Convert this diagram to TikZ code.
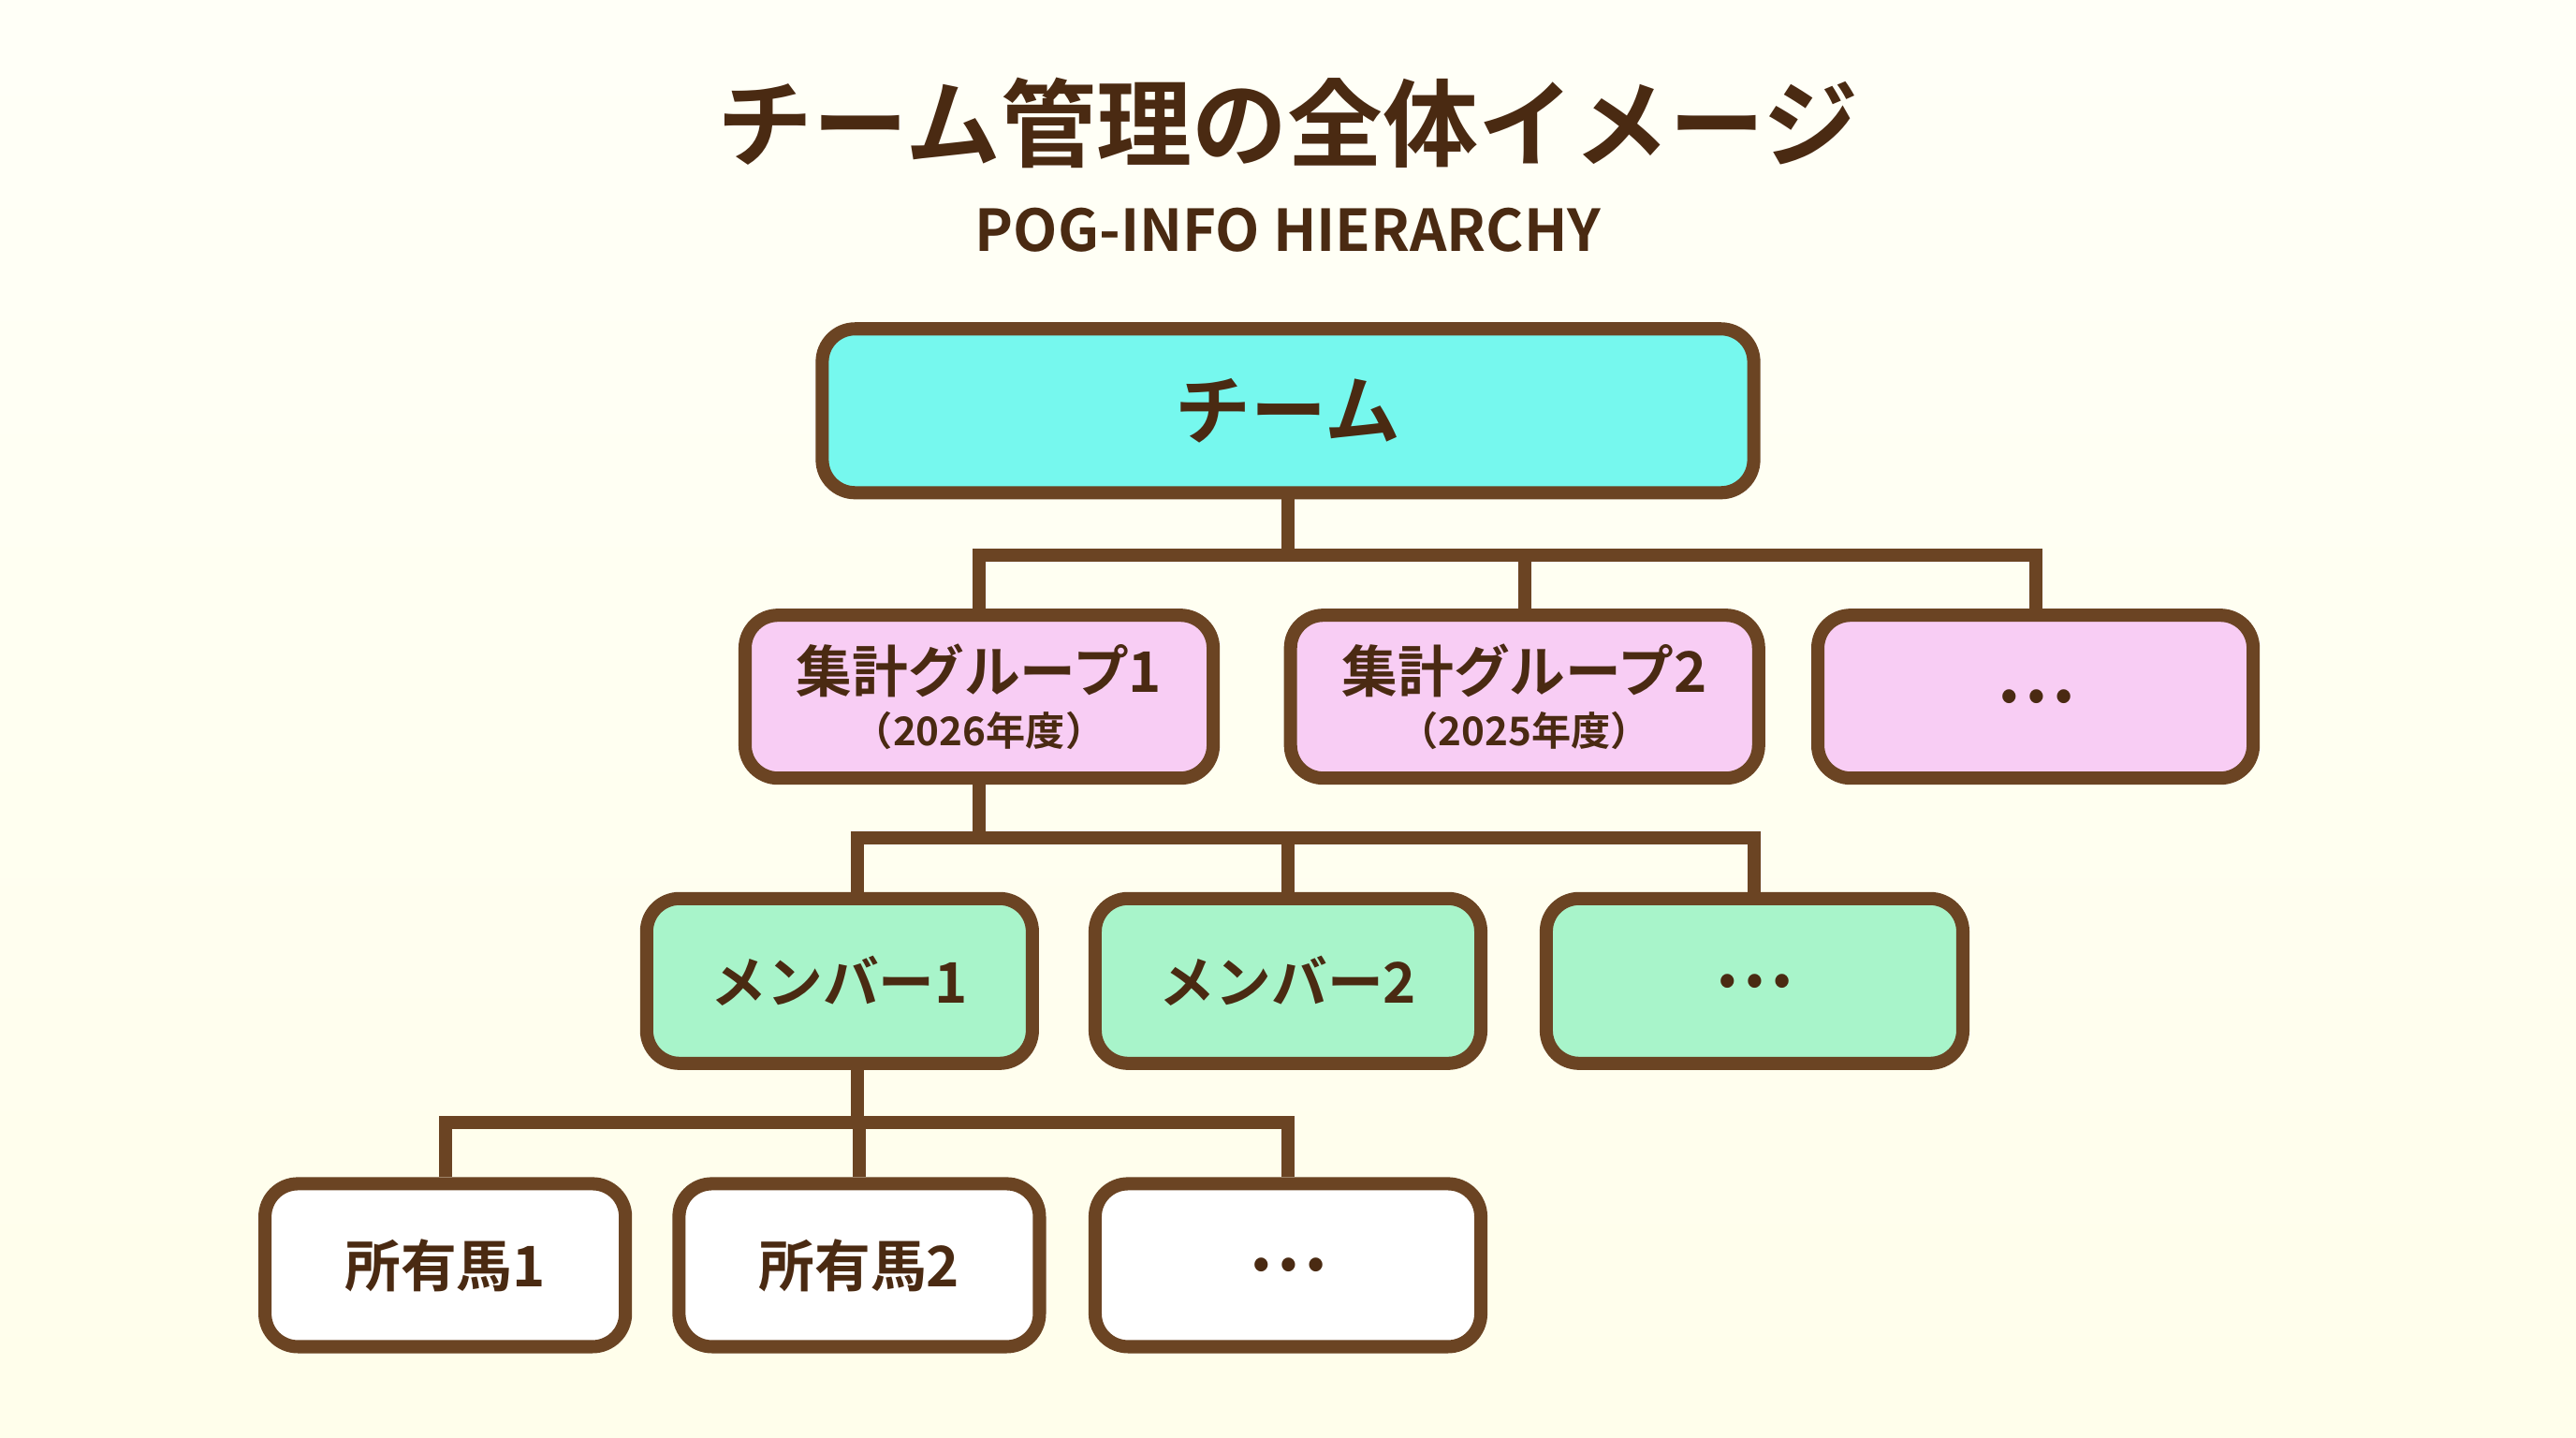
\documentclass[tikz,border=0pt]{standalone}
\usepackage{fontspec}
\setmainfont{Noto Sans CJK JP}[BoldFont={Noto Sans CJK JP Bold}]
\usetikzlibrary{positioning}
\definecolor{brn}{HTML}{6B4423}
\definecolor{ink}{HTML}{4A2A12}
\definecolor{teamc}{HTML}{76F8EE}
\definecolor{grpc}{HTML}{F8CDF4}
\definecolor{memc}{HTML}{A8F4CA}
\tikzset{
  box/.style={draw=brn, line width=4pt, rounded corners=10pt, align=center,
    text=ink, font=\bfseries, inner sep=0pt},
  teambox/.style={box, fill=teamc, minimum width=9.95cm, minimum height=1.75cm, font=\bfseries\fontsize{23}{26}\selectfont},
  grpbox/.style={box, fill=grpc, minimum height=1.74cm, font=\bfseries\fontsize{17}{19}\selectfont},
  membox/.style={box, fill=memc, minimum height=1.76cm, font=\bfseries\fontsize{17}{19}\selectfont},
  horsebox/.style={box, fill=white, minimum height=1.74cm, font=\bfseries\fontsize{17}{19}\selectfont},
  dotstxt/.style={font=\bfseries\fontsize{22}{24}\selectfont},
  link/.style={draw=brn, line width=4pt}
}
\begin{document}
\begin{tikzpicture}[x=0.01755cm, y=-0.01755cm]
  \shade[left color=yellow!3!white, right color=orange!8!yellow!8!white, shading angle=0]
    (0,0) rectangle (1568,875);
  \useasboundingbox (0,0) rectangle (1568,875);
  % titles
  \node[text=ink, font=\bfseries\fontsize{29}{32}\selectfont] (title) at (784,75) {チーム管理の全体イメージ};
  \node[text=ink, font=\bfseries\fontsize{17.5}{20}\selectfont] (sub) at (784,140) {POG-INFO HIERARCHY};
  % boxes
  \node[teambox] (team) at (784,250) {チーム};
  \node[grpbox, minimum width=5.0cm] (g1) at (596,424) {集計グループ1\\[-3pt]{\fontsize{12}{13}\selectfont （2026年度）}};
  \node[grpbox, minimum width=5.0cm] (g2) at (928,424) {集計グループ2\\[-3pt]{\fontsize{12}{13}\selectfont （2025年度）}};
  \node[grpbox, dotstxt, minimum width=4.65cm] (g3) at (1239,424) {…};
  \node[membox, minimum width=4.12cm] (m1) at (511,597) {メンバー1};
  \node[membox, minimum width=4.12cm] (m2) at (784,597) {メンバー2};
  \node[membox, dotstxt, minimum width=4.45cm] (m3) at (1068,597) {…};
  \node[horsebox, minimum width=3.85cm] (h1) at (271,770) {所有馬1};
  \node[horsebox, minimum width=3.85cm] (h2) at (523,770) {所有馬2};
  \node[horsebox, dotstxt, minimum width=4.12cm] (h3) at (784,770) {…};
  % connectors
  \coordinate (tj) at (784,338);
  \draw[link] (team.south) -- (tj);
  \draw[link] (tj) -| (g1.north);
  \draw[link] (tj) -| (g3.north);
  \draw[link] (g2.north) -- (g2.north |- tj);
  \coordinate (gj) at (596,510);
  \draw[link] (g1.south) -- (gj);
  \draw[link] (gj) -| (522,545);
  \draw[link] (gj) -| (m3.north);
  \draw[link] (m2.north) -- (m2.north |- gj);
  \coordinate (mj) at (522,683);
  \draw[link] (522,650) -- (mj);
  \draw[link] (mj) -| (h1.north);
  \draw[link] (mj) -| (h3.north);
  \draw[link] (h2.north) -- (h2.north |- mj);
\end{tikzpicture}
\end{document}
